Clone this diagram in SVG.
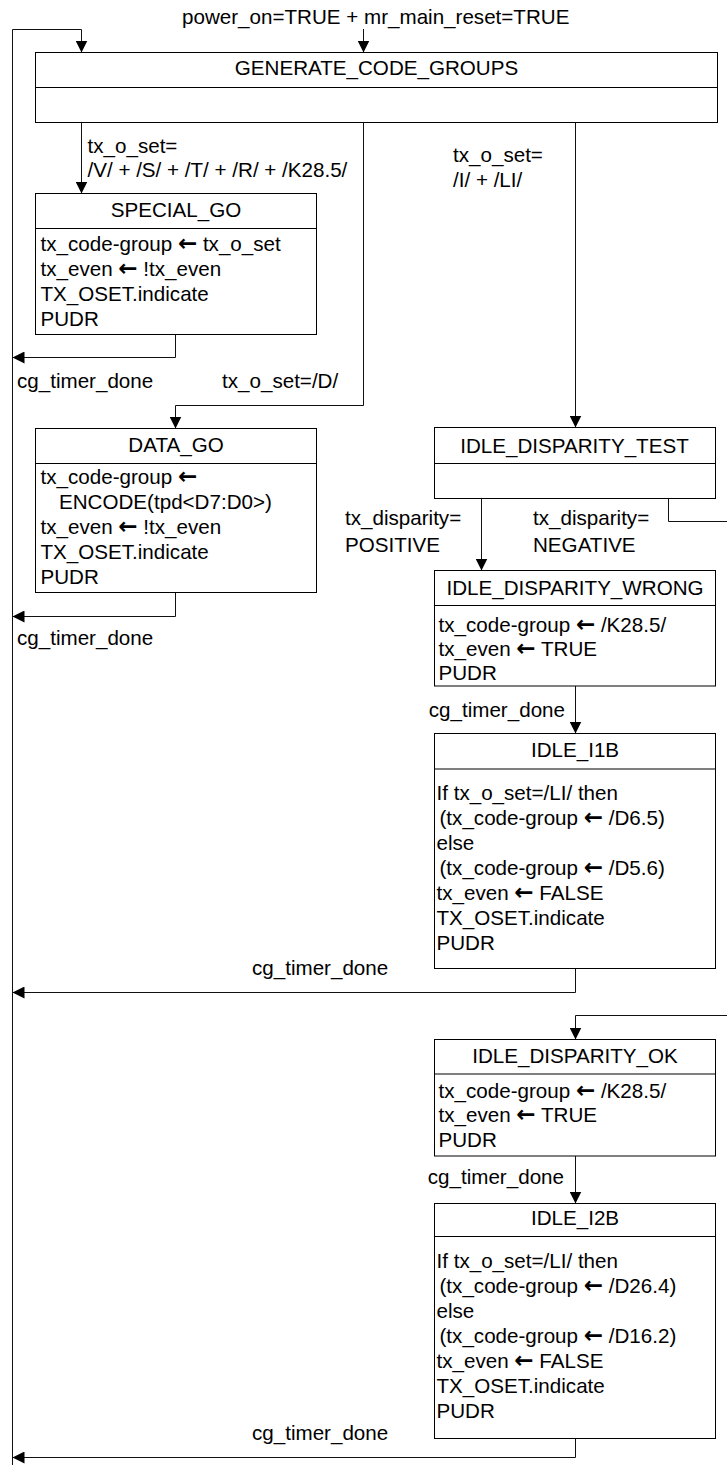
<svg xmlns="http://www.w3.org/2000/svg" width="727" height="1465" viewBox="0 0 727 1465">
  <style>
    .box { fill: #fff; stroke: #000; stroke-width: 1; }
    .div { stroke: #000; stroke-width: 1; }
    .t { font-family: "Liberation Sans", Arial, sans-serif; font-size: 20.6px; fill: #000; }
    .title { text-anchor: middle; }
    .end { text-anchor: end; }
    .ar { font-family: "DejaVu Sans", sans-serif; font-weight: bold; font-size: 23px; }
    .edge { fill: none; stroke: #111; stroke-width: 1; }
    .arrow { marker-end: url(#head); }
  </style>
  <defs>
    <marker id="head" markerUnits="userSpaceOnUse" markerWidth="12" markerHeight="12" refX="12" refY="6" orient="auto">
      <path d="M0,0 L12,6 L0,12 Z" fill="#000"/>
    </marker>
  </defs>

  <rect width="727" height="1465" fill="#fff"/>

  <!-- connectors: the left bus, state exits and their conditions -->
  <g id="connectors">
    <path class="edge arrow" d="M363.5,29 V52.5"/>
    <path class="edge arrow" d="M12.5,1465 V29.5 H81.5 V52.5"/>
    <path class="edge arrow" d="M81.5,122.5 V193.5"/>
    <path class="edge arrow" d="M363.5,122.5 V405.5 H175.5 V428.5"/>
    <path class="edge arrow" d="M575.5,122.5 V427.5"/>
    <path class="edge arrow" d="M175.5,334.5 V357.5 H12.5"/>
    <path class="edge arrow" d="M175.5,592.5 V616.5 H12.5"/>
    <path class="edge arrow" d="M481.5,498.5 V570.5"/>
    <path class="edge arrow" d="M668.5,498.5 V521.5 H740 V1015.5 H575.5 V1039.5"/>
    <path class="edge arrow" d="M575.5,686 V733.5"/>
    <path class="edge arrow" d="M575.5,968.5 V992.5 H12.5"/>
    <path class="edge arrow" d="M575.5,1156 V1203.5"/>
    <path class="edge arrow" d="M575.5,1438.5 V1457.5 H12.5"/>

    <text class="t" x="182" y="24">power_on=TRUE + mr_main_reset=TRUE</text>
    <text class="t" x="87.5" y="153">tx_o_set=</text>
    <text class="t" x="87.5" y="177">/V/ + /S/ + /T/ + /R/ + /K28.5/</text>
    <text class="t" x="453" y="162">tx_o_set=</text>
    <text class="t" x="453" y="187">/I/ + /LI/</text>
    <text class="t" x="17" y="388">cg_timer_done</text>
    <text class="t" x="222" y="388">tx_o_set=/D/</text>
    <text class="t" x="17" y="645">cg_timer_done</text>
    <text class="t" x="345" y="525">tx_disparity=</text>
    <text class="t" x="345" y="551.5">POSITIVE</text>
    <text class="t" x="533" y="525">tx_disparity=</text>
    <text class="t" x="533" y="551.5">NEGATIVE</text>
    <text class="t end" x="565" y="716.5">cg_timer_done</text>
    <text class="t" x="252" y="975">cg_timer_done</text>
    <text class="t end" x="564" y="1184">cg_timer_done</text>
    <text class="t" x="252" y="1440">cg_timer_done</text>
  </g>

  <g id="GENERATE_CODE_GROUPS">
    <rect class="box" x="35.5" y="52.5" width="682" height="70"/>
    <line class="div" x1="35.5" y1="87.5" x2="717.5" y2="87.5"/>
    <text class="t title" x="376.5" y="75">GENERATE_CODE_GROUPS</text>
  </g>

  <g id="SPECIAL_GO">
    <rect class="box" x="35.5" y="193.5" width="281" height="141"/>
    <line class="div" x1="35.5" y1="228.5" x2="316.5" y2="228.5"/>
    <text class="t title" x="176" y="216.5">SPECIAL_GO</text>
    <text class="t" x="40.5" y="250.5">tx_code-group <tspan class="ar">←</tspan> tx_o_set</text>
    <text class="t" x="40.5" y="275.5">tx_even <tspan class="ar">←</tspan> !tx_even</text>
    <text class="t" x="40.5" y="300.5">TX_OSET.indicate</text>
    <text class="t" x="40.5" y="325.5">PUDR</text>
  </g>

  <g id="DATA_GO">
    <rect class="box" x="35.5" y="428.5" width="281" height="164"/>
    <line class="div" x1="35.5" y1="463.5" x2="316.5" y2="463.5"/>
    <text class="t title" x="176" y="451.5">DATA_GO</text>
    <text class="t" x="40.5" y="483.5">tx_code-group <tspan class="ar">←</tspan></text>
    <text class="t" x="59" y="508.5">ENCODE(tpd&lt;D7:D0&gt;)</text>
    <text class="t" x="40.5" y="533.5">tx_even <tspan class="ar">←</tspan> !tx_even</text>
    <text class="t" x="40.5" y="558.5">TX_OSET.indicate</text>
    <text class="t" x="40.5" y="583.5">PUDR</text>
  </g>

  <g id="IDLE_DISPARITY_TEST">
    <rect class="box" x="434.5" y="427.5" width="281" height="71"/>
    <line class="div" x1="434.5" y1="463.5" x2="715.5" y2="463.5"/>
    <text class="t title" x="574.5" y="452.5">IDLE_DISPARITY_TEST</text>
  </g>

  <g id="IDLE_DISPARITY_WRONG">
    <rect class="box" x="434.5" y="570.5" width="281" height="115.5"/>
    <line class="div" x1="434.5" y1="605.5" x2="715.5" y2="605.5"/>
    <text class="t title" x="575" y="595">IDLE_DISPARITY_WRONG</text>
    <text class="t" x="438.5" y="631.5">tx_code-group <tspan class="ar">←</tspan> /K28.5/</text>
    <text class="t" x="438.5" y="655.5">tx_even <tspan class="ar">←</tspan> TRUE</text>
    <text class="t" x="438.5" y="679.5">PUDR</text>
  </g>

  <g id="IDLE_I1B">
    <rect class="box" x="434.5" y="733.5" width="281" height="235"/>
    <line class="div" x1="434.5" y1="769" x2="715.5" y2="769"/>
    <text class="t title" x="575" y="756.5">IDLE_I1B</text>
    <text class="t" x="436.5" y="800">If tx_o_set=/LI/ then</text>
    <text class="t" x="439.5" y="825">(tx_code-group <tspan class="ar">←</tspan> /D6.5)</text>
    <text class="t" x="436.5" y="850">else</text>
    <text class="t" x="439.5" y="875">(tx_code-group <tspan class="ar">←</tspan> /D5.6)</text>
    <text class="t" x="436.5" y="900">tx_even <tspan class="ar">←</tspan> FALSE</text>
    <text class="t" x="436.5" y="925">TX_OSET.indicate</text>
    <text class="t" x="436.5" y="950">PUDR</text>
  </g>

  <g id="IDLE_DISPARITY_OK">
    <rect class="box" x="434.5" y="1039.5" width="281" height="116.5"/>
    <line class="div" x1="434.5" y1="1074" x2="715.5" y2="1074"/>
    <text class="t title" x="575" y="1062.5">IDLE_DISPARITY_OK</text>
    <text class="t" x="438.5" y="1098">tx_code-group <tspan class="ar">←</tspan> /K28.5/</text>
    <text class="t" x="438.5" y="1122">tx_even <tspan class="ar">←</tspan> TRUE</text>
    <text class="t" x="438.5" y="1146.5">PUDR</text>
  </g>

  <g id="IDLE_I2B">
    <rect class="box" x="434.5" y="1203.5" width="281" height="235"/>
    <line class="div" x1="434.5" y1="1236.5" x2="715.5" y2="1236.5"/>
    <text class="t title" x="575" y="1225">IDLE_I2B</text>
    <text class="t" x="436.5" y="1268">If tx_o_set=/LI/ then</text>
    <text class="t" x="439.5" y="1293">(tx_code-group <tspan class="ar">←</tspan> /D26.4)</text>
    <text class="t" x="436.5" y="1318">else</text>
    <text class="t" x="439.5" y="1343">(tx_code-group <tspan class="ar">←</tspan> /D16.2)</text>
    <text class="t" x="436.5" y="1368">tx_even <tspan class="ar">←</tspan> FALSE</text>
    <text class="t" x="436.5" y="1393">TX_OSET.indicate</text>
    <text class="t" x="436.5" y="1418">PUDR</text>
  </g>
</svg>
